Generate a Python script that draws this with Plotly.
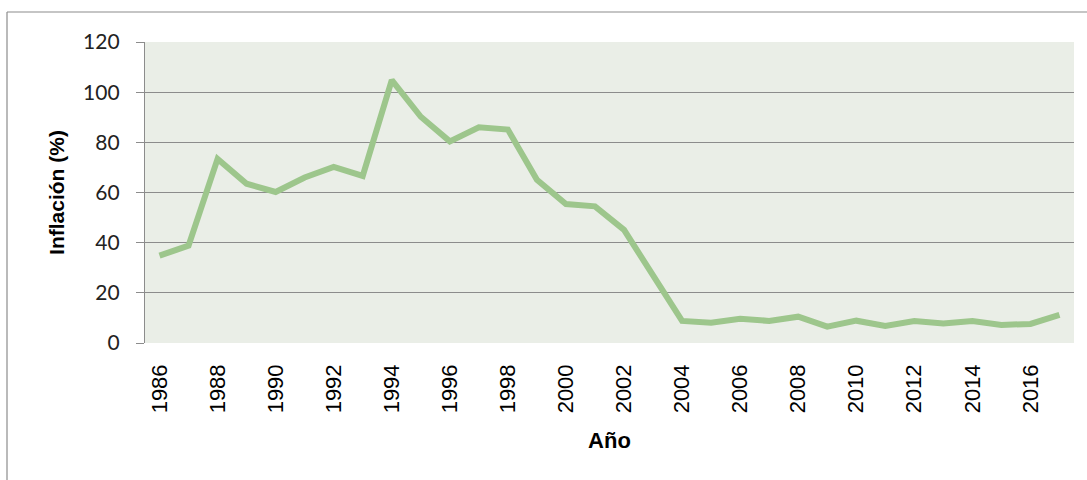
import plotly.graph_objects as go

years = list(range(1986, 2018))
inflacion = [34.8, 38.8, 73.4, 63.5, 60.2, 66.0, 70.2, 66.6, 104.8, 90.2,
             80.4, 86.0, 85.1, 65.1, 55.4, 54.5, 45.1, 26.5, 8.8, 8.1,
             9.7, 8.8, 10.5, 6.5, 8.9, 6.8, 8.8, 7.8, 8.8, 7.2,
             7.6, 11.2]

y_ticks = [0, 20, 40, 60, 80, 100, 120]
x_tick_years = list(range(1986, 2018, 2))

W, H = 1087, 480
ml, mr, mt, mb = 145, 13, 42, 137
pw = W - ml - mr
ph = H - mt - mb

fig = go.Figure()
fig.add_trace(go.Scatter(
    x=years, y=inflacion, mode="lines",
    line=dict(color="#9dc68c", width=6),
    hoverinfo="x+y", showlegend=False,
))

grid_col = "#8c8c8c"
fig.update_layout(
    width=W, height=H,
    margin=dict(l=ml, r=mr, t=mt, b=mb, pad=0),
    paper_bgcolor="white",
    plot_bgcolor="#eaeee7",
    font=dict(family="Liberation Sans, Arial, sans-serif", color="#000000"),
    xaxis=dict(
        range=[1985.5, 2017.5],
        tickmode="array", tickvals=x_tick_years,
        ticktext=[str(v) for v in x_tick_years],
        tickangle=-90,
        tickfont=dict(size=22, family="Liberation Sans, Arial, sans-serif"),
        showgrid=False, zeroline=False,
        showline=False,
        ticks="", ticklabelstandoff=16,
        title=dict(text="<b>Año</b>", font=dict(size=22, family="Liberation Sans, Arial, sans-serif"),
                   standoff=20),
        fixedrange=True,
    ),
    yaxis=dict(
        range=[0, 120],
        tickmode="array", tickvals=y_ticks,
        tickfont=dict(size=21, family="Lato, Liberation Sans, sans-serif", color="#222222"),
        showgrid=True, gridcolor=grid_col, gridwidth=1.3,
        zeroline=False,
        showline=True, linecolor=grid_col, linewidth=1.3,
        ticks="outside", ticklen=8, tickcolor=grid_col, tickwidth=1.3,
        ticklabelstandoff=12,
        title=dict(text="<b>Inflación (%)</b>", font=dict(size=21, family="Liberation Sans, Arial, sans-serif"),
                   standoff=12),
        fixedrange=True,
    ),
)

# outer chart border (top and left edges visible; right/bottom outside view)
fig.add_shape(type="line", xref="paper", yref="paper",
              x0=(7 - ml) / pw, x1=(W + 5 - ml) / pw,
              y0=(H - mb - 12) / ph, y1=(H - mb - 12) / ph,
              line=dict(color="#8c8c8c", width=1.2), layer="above")
fig.add_shape(type="line", xref="paper", yref="paper",
              x0=(7 - ml) / pw, x1=(7 - ml) / pw,
              y0=(H - mb - 12) / ph, y1=-(mb + 10) / ph,
              line=dict(color="#8c8c8c", width=1.2), layer="above")

fig.write_html("out.html",
               config={"displayModeBar": False},
               post_script="document.body.style.margin='0';document.body.style.overflow='hidden';")
